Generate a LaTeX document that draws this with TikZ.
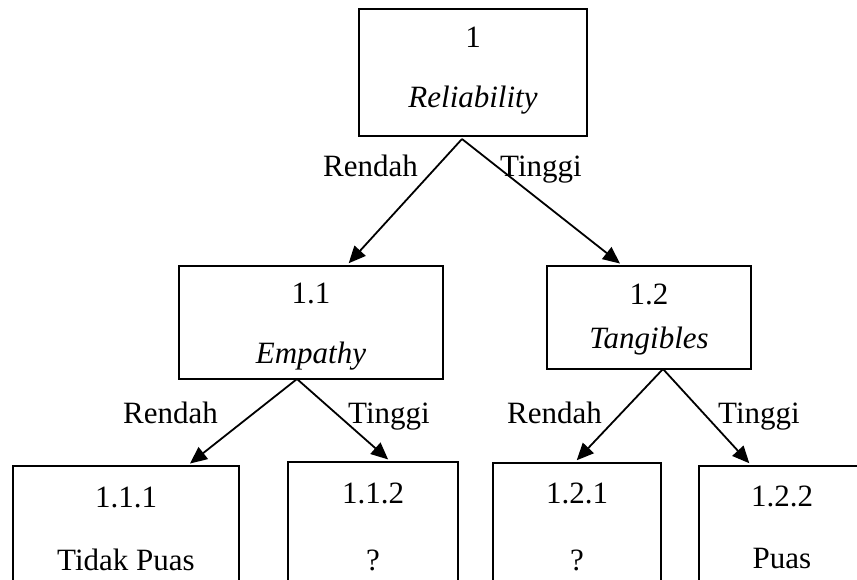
\documentclass[tikz,border=0pt]{standalone}
\usepackage{fontspec}
\setmainfont{Liberation Serif}
\usetikzlibrary{arrows.meta}
\begin{document}
\begin{tikzpicture}[x=1pt,y=-1pt,
  box/.style={draw, line width=1.8pt, rectangle, inner sep=0pt},
  txt/.style={anchor=base, inner sep=0pt, font=\fontsize{31}{36}\selectfont},
  lbl/.style={anchor=base west, inner sep=0pt, font=\fontsize{31}{36}\selectfont},
  arr/.style={line width=1.8pt, -{Triangle[length=17pt,width=15pt]}, shorten >=2.5pt}]
\useasboundingbox (0,0) rectangle (857,580);
\clip (0,0) rectangle (857,580);

% decision nodes
\node[box, minimum width=228pt, minimum height=127pt] (root) at (473,72.5) {};
\node[txt] (root-id) at (473,48) {1};
\node[txt] (root-name) at (473,108) {\textit{Reliability}};

\node[box, minimum width=264pt, minimum height=113pt] (n11) at (311,322.5) {};
\node[txt] (n11-id) at (311,303) {1.1};
\node[txt] (n11-name) at (311,363) {\textit{Empathy}};

\node[box, minimum width=204pt, minimum height=103pt] (n12) at (649,317.5) {};
\node[txt] (n12-id) at (649,305) {1.2};
\node[txt] (n12-name) at (649,348) {\textit{Tangibles}};

% leaves
\node[box, minimum width=226pt, minimum height=128pt] (n111) at (126,530) {};
\node[txt] (n111-id) at (126,507) {1.1.1};
\node[txt] (n111-name) at (126,570) {Tidak Puas};

\node[box, minimum width=170pt, minimum height=132pt] (n112) at (373,528) {};
\node[txt] (n112-id) at (373,503) {1.1.2};
\node[txt] (n112-name) at (373,570) {?};

\node[box, minimum width=168pt, minimum height=131pt] (n121) at (577,528.5) {};
\node[txt] (n121-id) at (577,503) {1.2.1};
\node[txt] (n121-name) at (577,570) {?};

\node[box, minimum width=166pt, minimum height=128pt] (n122) at (782,530) {};
\node[txt] (n122-id) at (782,506) {1.2.2};
\node[txt] (n122-name) at (782,568) {Puas};

% branch points
\coordinate (root-fork) at (462,139);
\coordinate (n11-fork) at (297,379);
\coordinate (n12-fork) at (663,369);

% branches
\draw[arr] (root-fork) -- ([xshift=36pt]n11.north);
\draw[arr] (root-fork) -- ([xshift=-27pt]n12.north);
\draw[arr] (n11-fork) -- ([xshift=62pt]n111.north);
\draw[arr] (n11-fork) -- ([xshift=17pt]n112.north);
\draw[arr] (n12-fork) -- ([xshift=-2pt]n121.north);
\draw[arr] (n12-fork) -- ([xshift=-31pt]n122.north);

% branch labels
\node[lbl] (l-root-low) at (323,177) {Rendah};
\node[lbl] (l-root-high) at (500,177) {Tinggi};
\node[lbl] (l-n11-low) at (123,423) {Rendah};
\node[lbl] (l-n11-high) at (348,423) {Tinggi};
\node[lbl] (l-n12-low) at (507,423) {Rendah};
\node[lbl] (l-n12-high) at (718,423) {Tinggi};
\end{tikzpicture}
\end{document}
